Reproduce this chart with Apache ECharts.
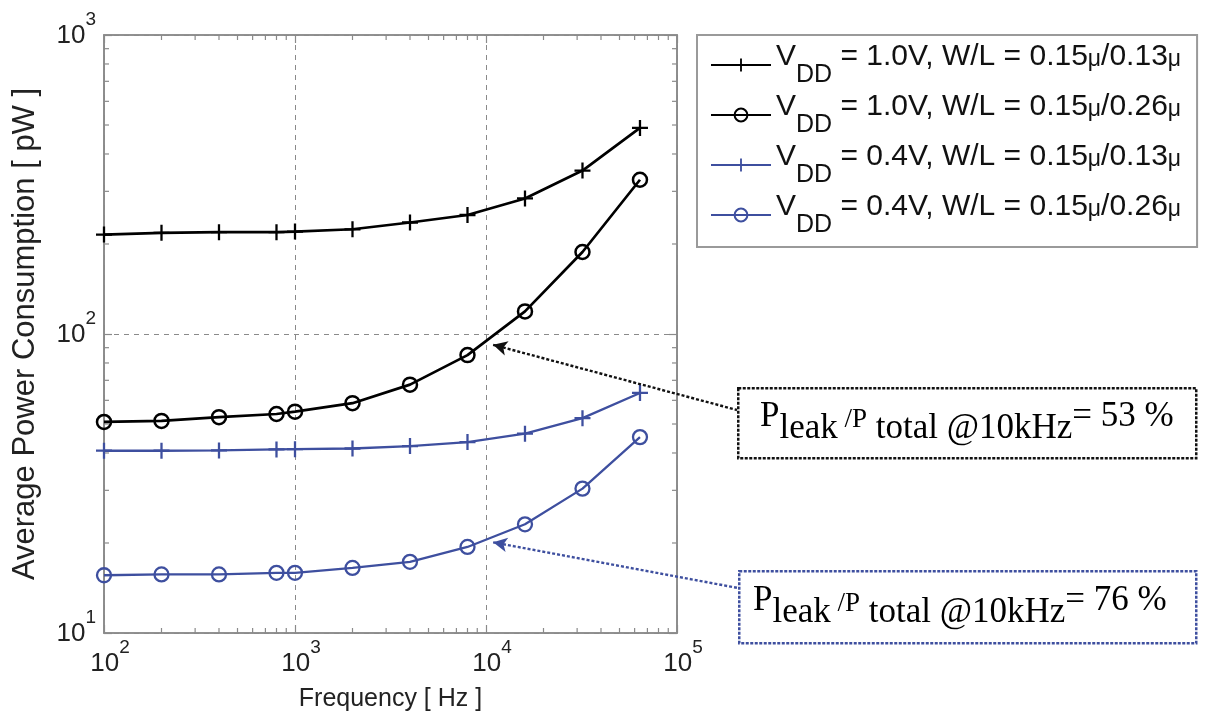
<!DOCTYPE html>
<html>
<head>
<meta charset="utf-8">
<script src="https://cdn.jsdelivr.net/npm/echarts@6.0.0/dist/echarts.min.js"></script>
<style>
  html, body { margin: 0; padding: 0; background: #fff; }
  #chart { width: 1210px; height: 726px; }
</style>
</head>
<body>
<div id="chart"></div>
<script>
// frequency points [Hz]
const freq = [100, 200, 400, 800, 1000, 2000, 4000, 8000, 16000, 32000, 64000]
// average power [pW]
const p10_013 = [215, 218, 219, 219, 220, 224, 236, 250, 284, 352, 489]
const p10_026 = [50.8, 51.2, 52.7, 54.0, 55.0, 58.7, 67.7, 85, 119, 188, 328]
const p04_013 = [40.7, 40.7, 40.8, 41.1, 41.2, 41.4, 42.2, 43.5, 46.4, 52.3, 63.5]
const p04_026 = [15.6, 15.7, 15.7, 15.9, 15.9, 16.5, 17.3, 19.4, 23.1, 30.4, 45.2]

const seriesNames = [
  'VDD = 1.0V, W/L = 0.15μ/0.13μ',
  'VDD = 1.0V, W/L = 0.15μ/0.26μ',
  'VDD = 0.4V, W/L = 0.15μ/0.13μ',
  'VDD = 0.4V, W/L = 0.15μ/0.26μ'
]
const xDecades = [2, 3, 4]   // minor ticks between 10^2 .. 10^5
const yDecades = [1, 2]      // minor ticks between 10^1 .. 10^3
const leakRatio = ['53 %', '76 %']

const BLUE = '#3e4f9f'
const GRID_GRAY = '#8a8a8a'
const PLUS = 'path://M0,6H14V8H0ZM6,0H8V14H6Z'
const FONT = 'Liberation Sans, Arial, sans-serif'
const SERIF = 'Liberation Serif, Times New Roman, serif'

const toXY = (ys) => freq.map((f, i) => [f, ys[i]])

const minorX = []
xDecades.forEach(d => { for (let k = 2; k <= 9; k++) minorX.push([k * Math.pow(10, d), 100]) })
const minorY = []
yDecades.forEach(d => { for (let k = 2; k <= 9; k++) minorY.push([1000, k * Math.pow(10, d)]) })

// legend text: V with DD subscript, small mu
function legendText(name) {
  const rest = name.replace('VDD', '')
  const parts = rest.split('μ')
  let s = '{v|V}{sub|DD}'
  parts.forEach((p, i) => {
    if (p) s += '{t|' + p + '}'
    if (i < parts.length - 1) s += '{mu|μ}'
  })
  return s
}

function powLabel(v) {
  return '{b|10}{s|' + Math.round(Math.log10(v)) + '}'
}
const powRich = {
  b: { fontSize: 26, fontFamily: FONT, color: '#222', lineHeight: 40, verticalAlign: 'bottom' },
  s: { fontSize: 19, fontFamily: FONT, color: '#222', verticalAlign: 'top', padding: [1, 0, 0, 0] }
}

const tickStyle = { show: true, inside: true, length: 8, lineStyle: { color: GRID_GRAY, width: 1.2 } }
const axisLine = { show: true, lineStyle: { color: GRID_GRAY, width: 1.6 } }

function minorTicks(isX) {
  return {
    type: 'custom',
    silent: true,
    z: 1,
    data: isX ? minorX : minorY,
    renderItem: (params, api) => {
      const v = api.value(isX ? 0 : 1)
      const st = { stroke: GRID_GRAY, lineWidth: 1.2 }
      if (isX) {
        const b = api.coord([v, 10])
        const t = api.coord([v, 1000])
        return { type: 'group', children: [
          { type: 'line', shape: { x1: b[0], y1: b[1], x2: b[0], y2: b[1] - 5 }, style: st },
          { type: 'line', shape: { x1: t[0], y1: t[1], x2: t[0], y2: t[1] + 5 }, style: st }
        ] }
      }
      const l = api.coord([100, v])
      const r = api.coord([100000, v])
      return { type: 'group', children: [
        { type: 'line', shape: { x1: l[0], y1: l[1], x2: l[0] + 5, y2: l[1] }, style: st },
        { type: 'line', shape: { x1: r[0], y1: r[1], x2: r[0] - 5, y2: r[1] }, style: st }
      ] }
    }
  }
}

function arrowLine(tip, end, color) {
  return {
    silent: true,
    symbol: ['arrow', 'none'],
    symbolSize: [11, 14],
    label: { show: false },
    lineStyle: { color: color, width: 2.4, type: [3, 2] },
    data: [[{ coord: tip }, { x: end[0], y: end[1] }]]
  }
}

function noteText(ratio) {
  return '{m|P}{s|leak}{q| /P}{s| total @10kHz}{m|= ' + ratio + '}'
}
function noteRich(color) {
  return {
    m: { fontSize: 35, fontFamily: SERIF, color: color, lineHeight: 35, verticalAlign: 'top' },
    s: { fontSize: 35, fontFamily: SERIF, color: color, lineHeight: 47, verticalAlign: 'bottom' },
    q: { fontSize: 27, fontFamily: SERIF, color: color, verticalAlign: 'top', padding: [7, 0, 0, 0] }
  }
}

const chart = echarts.init(document.getElementById('chart'))

chart.setOption({
  animation: false,
  backgroundColor: '#fff',
  grid: { left: 104, right: 533, top: 35, bottom: 93, show: true, borderColor: GRID_GRAY, borderWidth: 1.6 },
  legend: {
    data: seriesNames,
    orient: 'vertical',
    left: 697,
    top: 35,
    padding: [7, 16, 9, 13],
    itemGap: 4,
    itemWidth: 60,
    itemHeight: 16,
    selectedMode: false,
    backgroundColor: '#fff',
    borderColor: '#9a9a9a',
    borderWidth: 2,
    formatter: legendText,
    textStyle: {
      rich: {
        v: { fontSize: 30, fontFamily: FONT, color: '#111', lineHeight: 30, verticalAlign: 'top' },
        t: { fontSize: 30, fontFamily: FONT, color: '#111', lineHeight: 30, verticalAlign: 'top' },
        sub: { fontSize: 25, fontFamily: FONT, color: '#111', lineHeight: 46, verticalAlign: 'bottom' },
        mu: { fontSize: 23, fontFamily: FONT, color: '#111', verticalAlign: 'top', padding: [6, 0, 0, 0] }
      }
    }
  },
  xAxis: [{
    type: 'log', logBase: 10, min: 100, max: 100000,
    name: 'Frequency [ Hz ]', nameLocation: 'middle', nameGap: 54,
    nameTextStyle: { fontSize: 25, fontFamily: FONT, color: '#222' },
    axisLine: axisLine, axisTick: tickStyle,
    axisLabel: { formatter: powLabel, rich: powRich, margin: 4, padding: [0, 0, 0, 12] },
    splitLine: { show: true, lineStyle: { color: GRID_GRAY, type: [5, 5], width: 1 } }
  }, {
    type: 'log', logBase: 10, min: 100, max: 100000, position: 'top',
    axisLine: axisLine, axisTick: tickStyle, axisLabel: { show: false }, splitLine: { show: false }
  }],
  yAxis: [{
    type: 'log', logBase: 10, min: 10, max: 1000,
    name: 'Average Power Consumption [ pW ]', nameLocation: 'middle', nameGap: 63,
    nameTextStyle: { fontSize: 31, fontFamily: FONT, color: '#222' },
    axisLine: axisLine, axisTick: tickStyle,
    axisLabel: { formatter: powLabel, rich: powRich, margin: 8, padding: [0, 0, 12, 0] },
    splitLine: { show: true, lineStyle: { color: GRID_GRAY, type: [5, 5], width: 1 } }
  }, {
    type: 'log', logBase: 10, min: 10, max: 1000, position: 'right',
    axisLine: axisLine, axisTick: tickStyle, axisLabel: { show: false }, splitLine: { show: false }
  }],
  graphic: [
    { type: 'rect', left: 737, top: 387, z: 10, shape: { width: 458, height: 70 },
      style: { fill: '#fff', stroke: '#111', lineWidth: 2.5, lineDash: [3, 1.5] } },
    { type: 'text', left: 760, top: 399, z: 11,
      style: { text: noteText(leakRatio[0]), rich: noteRich('#111') } },
    { type: 'rect', left: 738, top: 570, z: 10, shape: { width: 457, height: 72 },
      style: { fill: '#fff', stroke: BLUE, lineWidth: 2.5, lineDash: [3, 1.5] } },
    { type: 'text', left: 753, top: 583, z: 11,
      style: { text: noteText(leakRatio[1]), rich: noteRich('#111') } }
  ],
  series: [{
    name: seriesNames[0], type: 'line', data: toXY(p10_013),
    symbol: PLUS, symbolSize: 16,
    lineStyle: { color: '#000', width: 2.7 }, itemStyle: { color: '#000' }
  }, {
    name: seriesNames[1], type: 'line', data: toXY(p10_026),
    symbol: 'circle', symbolSize: 14,
    lineStyle: { color: '#000', width: 2.7 },
    itemStyle: { color: 'rgba(0,0,0,0)', borderColor: '#000', borderWidth: 2.5 },
    markLine: arrowLine([10900, 92], [737, 410], '#111')
  }, {
    name: seriesNames[2], type: 'line', data: toXY(p04_013),
    symbol: PLUS, symbolSize: 16,
    lineStyle: { color: BLUE, width: 2.3 }, itemStyle: { color: BLUE }
  }, {
    name: seriesNames[3], type: 'line', data: toXY(p04_026),
    symbol: 'circle', symbolSize: 14,
    lineStyle: { color: BLUE, width: 2.3 },
    itemStyle: { color: 'rgba(0,0,0,0)', borderColor: BLUE, borderWidth: 2.3 },
    markLine: arrowLine([10900, 20.1], [738, 588], BLUE)
  },
  minorTicks(true),
  minorTicks(false)
  ]
})
</script>
</body>
</html>
